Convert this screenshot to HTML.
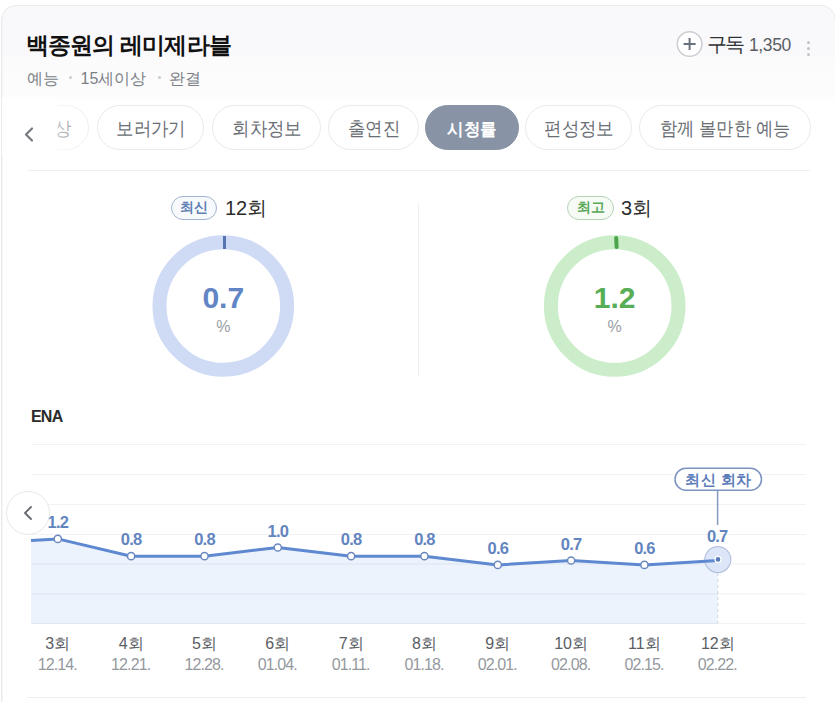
<!DOCTYPE html>
<html lang="ko">
<head>
<meta charset="utf-8">
<style>
*{box-sizing:border-box;margin:0;padding:0}
html,body{width:835px;height:702px;overflow:hidden;background:#fff;font-family:"Liberation Sans",sans-serif}
.card{position:absolute;left:1px;top:5px;width:835px;height:740px;border:1px solid #e9eaec;box-shadow:inset 1px 0 0 #f5f5f6;border-radius:15px;background:linear-gradient(to bottom,#f9f9fb 0,#f9f9fb 49px,#fbfbfc 51px,#fcfcfd 85px,#fff 100px)}
.abs{position:absolute;white-space:nowrap}
.title{left:26px;top:30px;font-size:23px;letter-spacing:-0.85px;font-weight:bold;color:#111;line-height:30px}
.sub{left:27px;top:67.5px;font-size:16px;color:#7b7f86;line-height:22px}
.sub .dot{display:inline-block;width:3px;height:3px;border-radius:50%;background:#c9ccd1;vertical-align:middle;margin:0 10px 3px 10px}
.subs{left:676px;top:31px;height:26px}
.plus{position:absolute;left:0;top:0;width:26px;height:26px;border:1.5px solid #cbcdd1;border-radius:50%;background:#fff}
.plus:before,.plus:after{content:"";position:absolute;background:#646b75;left:5.5px;top:10.5px;width:12px;height:2px}
.plus:after{left:10.5px;top:5.5px;width:2px;height:12px}
.gudok{left:707px;top:30.5px;font-size:20px;letter-spacing:-2.2px;color:#303236;line-height:26px}
.cnt{left:749px;top:32px;font-size:17.5px;letter-spacing:-0.4px;color:#5a5e64;line-height:26px}
.kebab{position:absolute;left:807px;width:3px;height:3px;border-radius:50%;background:#bfc2c6}
.pill{position:absolute;top:105px;height:45px;border:1px solid #e9eaed;border-radius:23px;background:#fff;font-size:18px;color:#6a6e74;line-height:43px;text-align:center;white-space:nowrap}
.pill span{display:inline-block;transform:translateY(1.5px) scale(0.965,1.05)}
.pill.on{background:#8894a6;border-color:#8894a6;color:#fff;font-weight:bold}
.fade{position:absolute;left:2px;top:98px;width:100px;height:58px;background:linear-gradient(to right,#fff 0,#fff 55px,rgba(255,255,255,0.6) 56px,rgba(255,255,255,0.2) 90px,rgba(255,255,255,0) 96px)}
.hr{position:absolute;left:28px;width:782px;height:1px;background:#eeeff1}
.badge{position:absolute;height:24px;border:1px solid #a3b5d0;border-radius:12px;font-size:13.5px;font-weight:bold;color:#5f7fb3;line-height:22px;text-align:center;background:#f7f9fc}
.badge.g{border-color:#b5d2b5;color:#58a858;background:#f6fbf6}
.ep{position:absolute;font-size:20px;color:#2b2b2b;line-height:24px;white-space:nowrap}
.big{position:absolute;font-size:30px;font-weight:bold;line-height:30px;text-align:center;width:80px}
.pct{position:absolute;font-size:16px;color:#9a9ea4;line-height:16px;text-align:center;width:40px}
.ena{left:31px;top:407px;font-size:16px;letter-spacing:-0.8px;font-weight:bold;color:#2a2a2a;line-height:20px}
.xl{position:absolute;width:70px;text-align:center;white-space:nowrap}
.xl b{display:block;font-weight:normal;font-size:16px;color:#5a5e64;line-height:18px}
.xl i{display:block;font-style:normal;font-size:16px;letter-spacing:-0.9px;text-indent:-0.9px;color:#95999e;line-height:18px;margin-top:3px}
.nav{position:absolute;left:6px;top:491px;width:44px;height:44px;border-radius:50%;border:1px solid #e9e9eb;background:#fff}
</style>
</head>
<body>
<div class="card"></div>

<div class="abs title">백종원의 레미제라블</div>
<div class="abs sub">예능<span class="dot" style="margin:0 9px 3px 9.5px"></span>15세이상<span class="dot" style="margin:0 8px 3px 12px"></span>완결</div>

<svg class="abs" style="left:670px;top:24px" width="40" height="40" viewBox="670 24 40 40"><circle cx="689.6" cy="44" r="12.3" fill="#fff" stroke="#cbcdd1" stroke-width="1.5"/><path d="M683.6 44H695.6M689.6 38V50" stroke="#68707b" stroke-width="2"/></svg>
<div class="abs gudok">구독</div>
<div class="abs cnt">1,350</div>
<div class="kebab" style="top:41px"></div>
<div class="kebab" style="top:47px"></div>
<div class="kebab" style="top:53px"></div>

<div class="pill" style="left:18px;width:71px"><span>영상</span></div>
<div class="pill" style="left:97px;width:107px"><span>보러가기</span></div>
<div class="pill" style="left:212px;width:109px"><span>회차정보</span></div>
<div class="pill" style="left:328px;width:91px"><span>출연진</span></div>
<div class="pill on" style="left:425px;width:94px"><span style="transform:translateY(2.2px) scale(0.94,0.97)">시청률</span></div>
<div class="pill" style="left:525px;width:107px"><span>편성정보</span></div>
<div class="pill" style="left:639px;width:172px"><span style="transform:translateY(1.5px) scale(0.955,1.05)">함께 볼만한 예능</span></div>
<div class="fade"></div>
<svg class="abs" style="left:20px;top:123px" width="20" height="22" viewBox="0 0 20 22"><path d="M12 5.5 L6 11.5 L12 17.5" fill="none" stroke="#76797e" stroke-width="2.2" stroke-linecap="round" stroke-linejoin="round"/></svg>

<div class="hr" style="top:170px"></div>

<!-- ratings -->
<div style="position:absolute;left:418px;top:203px;width:1px;height:173px;background:#eef0f2"></div>
<div class="badge" style="left:171px;top:196px;width:46px">최신</div>
<div class="ep" style="left:225px;top:196px">12회</div>
<div class="badge g" style="left:567px;top:196px;width:47px">최고</div>
<div class="ep" style="left:621px;top:196px">3회</div>

<svg class="abs" style="left:0;top:0" width="835" height="702">
  <circle cx="223.3" cy="306" r="63.8" fill="none" stroke="#cfdbf5" stroke-width="14"/>
  <path d="M224.5 236 L224.5 249" stroke="#5673b3" stroke-width="3"/>
  <circle cx="614.7" cy="306" r="63.8" fill="none" stroke="#cbedca" stroke-width="14"/>
  <path d="M616.2 238 L616.6 247" stroke="#4ba64b" stroke-width="4" stroke-linecap="round"/>
</svg>
<div class="big" style="left:183.3px;top:282.5px;color:#6285c6">0.7</div>
<div class="pct" style="left:203.3px;top:318.5px">%</div>
<div class="big" style="left:574.7px;top:282.5px;color:#57ae57">1.2</div>
<div class="pct" style="left:594.7px;top:318.5px">%</div>

<!-- chart -->
<div class="abs ena">ENA</div>
<svg class="abs" style="left:0;top:0" width="835" height="702">
  <path d="M31 540.6 L57.8 538.9 L131.1 556.2 L204.5 556.2 L277.8 547.5 L351.1 556.2 L424.4 556.2 L497.8 564.9 L571.1 560.5 L644.4 564.9 L717.8 560.5 L717.8 624 L31 624 Z" fill="#ecf3fd"/>
  <g stroke="rgba(0,10,40,0.055)" stroke-width="1">
    <path d="M31 444.5H806M31 474.5H806M31 504.5H806M31 534.5H806M31 564H806M31 594H806M31 623.5H806"/>
  </g>
  <path d="M717.8 573 V623" stroke="#cdd3de" stroke-width="1" stroke-dasharray="3 3"/>
  <circle cx="717.8" cy="559.6" r="13" fill="#dce6f8" stroke="#b3c2df" stroke-width="1.2"/>
  <path d="M31 540.6 L57.8 538.9 L131.1 556.2 L204.5 556.2 L277.8 547.5 L351.1 556.2 L424.4 556.2 L497.8 564.9 L571.1 560.5 L644.4 564.9 L717.8 560.5" fill="none" stroke="#5e88d0" stroke-width="3" stroke-linejoin="round"/>
  <g fill="#fff" stroke="#6a88bf" stroke-width="1.5">
    <circle cx="57.8" cy="538.9" r="3.6"/>
    <circle cx="131.1" cy="556.2" r="3.6"/>
    <circle cx="204.5" cy="556.2" r="3.6"/>
    <circle cx="277.8" cy="547.5" r="3.6"/>
    <circle cx="351.1" cy="556.2" r="3.6"/>
    <circle cx="424.4" cy="556.2" r="3.6"/>
    <circle cx="497.8" cy="564.9" r="3.6"/>
    <circle cx="571.1" cy="560.5" r="3.6"/>
    <circle cx="644.4" cy="564.9" r="3.6"/>
  </g>
  <circle cx="718" cy="559.4" r="3" fill="#5b7bb8" stroke="#fff" stroke-width="1.3"/>
  <path d="M717.6 490.5 V525" stroke="#8699bd" stroke-width="1.5"/>
  <rect x="675" y="468.2" width="86.5" height="22" rx="11" fill="#fff" stroke="#7c93bf" stroke-width="1.5"/>
  <path d="M27 697.5H806" stroke="#eceef0" stroke-width="1"/>
  <g font-family="Liberation Sans, sans-serif" font-weight="bold" font-size="16.5" letter-spacing="-0.8" fill="#6385bf" text-anchor="middle">
    <text x="57.8" y="528">1.2</text>
    <text x="131.1" y="545">0.8</text>
    <text x="204.5" y="545">0.8</text>
    <text x="277.8" y="536.5">1.0</text>
    <text x="351.1" y="545">0.8</text>
    <text x="424.4" y="545">0.8</text>
    <text x="497.8" y="554">0.6</text>
    <text x="571.1" y="549.5">0.7</text>
    <text x="644.4" y="554">0.6</text>
    <text x="717.2" y="541.7">0.7</text>
    <text x="718.4" y="485" font-size="15" fill="#5d7dba" letter-spacing="0.4">최신 회차</text>
  </g>
</svg>
<div class="nav"></div>
<svg class="abs" style="left:18px;top:502px" width="20" height="22" viewBox="0 0 20 22"><path d="M13 5 L7 11 L13 17" fill="none" stroke="#66696e" stroke-width="1.8" stroke-linecap="round" stroke-linejoin="round"/></svg>

<div class="xl" style="left:22.8px;top:635px"><b>3회</b><i>12.14.</i></div>
<div class="xl" style="left:96.1px;top:635px"><b>4회</b><i>12.21.</i></div>
<div class="xl" style="left:169.5px;top:635px"><b>5회</b><i>12.28.</i></div>
<div class="xl" style="left:242.8px;top:635px"><b>6회</b><i>01.04.</i></div>
<div class="xl" style="left:316.1px;top:635px"><b>7회</b><i>01.11.</i></div>
<div class="xl" style="left:389.4px;top:635px"><b>8회</b><i>01.18.</i></div>
<div class="xl" style="left:462.8px;top:635px"><b>9회</b><i>02.01.</i></div>
<div class="xl" style="left:536.1px;top:635px"><b>10회</b><i>02.08.</i></div>
<div class="xl" style="left:609.4px;top:635px"><b>11회</b><i>02.15.</i></div>
<div class="xl" style="left:682.8px;top:635px"><b>12회</b><i>02.22.</i></div>
</body>
</html>
